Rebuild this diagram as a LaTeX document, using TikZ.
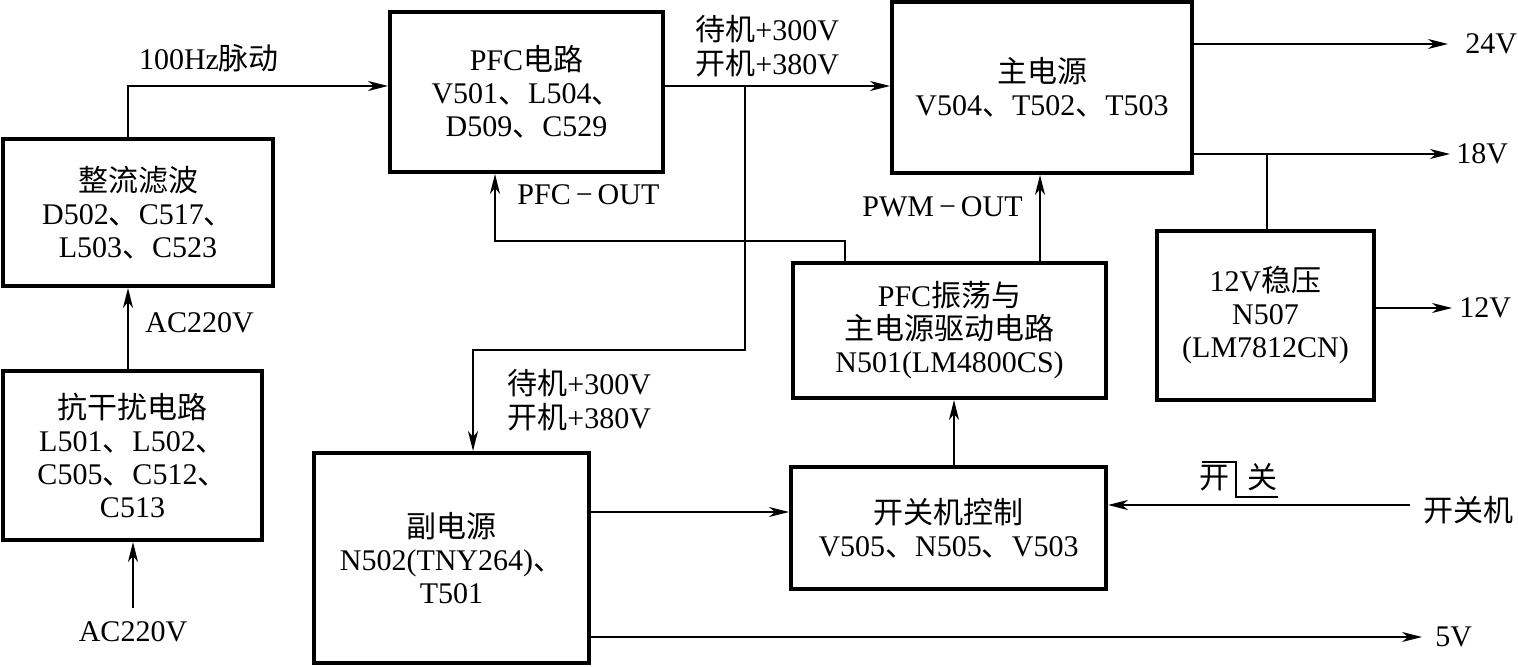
\documentclass[tikz,border=0pt]{standalone}
\usepackage{fontspec}
\setmainfont{Liberation Serif}
\newfontfamily\cjk{Noto Sans CJK SC}
\newcommand\zh[1]{{\cjk #1}}
\usetikzlibrary{arrows.meta,calc}
\begin{document}
\begin{tikzpicture}[x=0.5pt,y=-0.5pt,
  font=\fontsize{15pt}{16.5pt}\selectfont,
  blk/.style 2 args={draw,line width=2pt,minimum width=#1,minimum height=#2,align=center,inner sep=0pt},
  lbl/.style={inner sep=0pt,align=left},
  twol/.style={lbl,font=\fontsize{15pt}{17pt}\selectfont},
  ln/.style={line width=1pt},
  arr/.style={line width=1pt,-{Stealth[length=10pt,width=5pt,inset=3pt]}},
  wave/.style={line width=0.8pt},
]
\useasboundingbox (0,0) rectangle (1518,667);

% blocks
\node[blk={135pt}{73.5pt}] (zl) at (138,212.5) {\zh{整流滤波}\\D502\zh{、}C517\zh{、}\\L503\zh{、}C523};
\node[blk={129.5pt}{84.5pt}] (kg) at (132.5,455.5) {\zh{抗干扰电路}\\L501\zh{、}L502\zh{、}\\C505\zh{、}C512\zh{、}\\C513};
\node[blk={136.5pt}{80pt}] (pfc) at (526.5,92) {PFC\zh{电路}\\V501\zh{、}L504\zh{、}\\D509\zh{、}C529};
\node[blk={150pt}{85.5pt}] (main) at (1042,87.5) {\zh{主电源}\\V504\zh{、}T502\zh{、}T503};
\node[blk={108.5pt}{84.5pt}] (v12) at (1265.5,315.5) {12V\zh{稳压}\\N507\\(LM7812CN)};
\node[blk={156.5pt}{67.5pt}] (osc) at (949.5,330.5) {PFC\zh{振荡与}\\\zh{主电源驱动电路}\\N501(LM4800CS)};
\node[blk={157.5pt}{61pt}] (ctl) at (948.5,528) {\zh{开关机控制}\\V505\zh{、}N505\zh{、}V503};
\node[blk={137.5pt}{105pt}] (aux) at (451.5,558) {\zh{副电源}\\N502(TNY264)\zh{、}\\T501};

% labels
\node[lbl] (l100) at (209,58) {100Hz\zh{脉动}};
\node[lbl,anchor=west] (lac1) at (145,323) {AC220V};
\node[lbl] (acin) at (133,632) {AC220V};
\node[twol,anchor=west] (ltop) at (695,46) {\zh{待机}+300V\\\zh{开机}+380V};
\node[twol,anchor=west] (lbot) at (507,400) {\zh{待机}+300V\\\zh{开机}+380V};
\node[lbl,anchor=west] (lpfc) at (517,195) {PFC\,−\,OUT};
\node[lbl,anchor=west] (lpwm) at (862,207) {PWM\,−\,OUT};
\node[lbl,anchor=west] (o24) at (1465,44) {24V};
\node[lbl,anchor=west] (o18) at (1456,154) {18V};
\node[lbl,anchor=west] (o12) at (1459,308) {12V};
\node[lbl,anchor=west] (o5) at (1435,637) {5V};
\node[lbl,anchor=west] (kin) at (1423,510) {\zh{开关机}};
\node[lbl] (kai) at (1214,478) {\zh{开}};
\node[lbl] (guan) at (1262,477) {\zh{关}};

% helper coordinates
\coordinate (c1) at (128,86);
\coordinate (j1) at (745,86);
\coordinate (b1) at (745,350);
\coordinate (b2) at (473,350);
\coordinate (p1) at (845,241);
\coordinate (p2) at (495,241);
\coordinate (p3) at (1040,0);
\coordinate (p4) at (954,0);
\coordinate (p5) at (0,512);
\coordinate (acbot) at (133,608);
\coordinate (j2) at (1267,154);

% connectors
\draw[arr] (acbot) -- (acbot |- kg.south);
\draw[arr] (kg.north -| c1) -- (zl.south -| c1);
\draw[arr] (zl.north -| c1) -- (c1) -- (c1 -| pfc.west);
\draw[arr] (pfc.east |- c1) -- (main.west |- c1);
\draw[arr] (j1) -- (b1) -- (b2) -- (b2 |- aux.north);
\draw[arr] (osc.north -| p1) -- (p1) -- (p2) -- (p2 |- pfc.south);
\draw[arr] (osc.north -| p3) -- (main.south -| p3);
\draw[arr] (ctl.north -| p4) -- (osc.south -| p4);
\draw[arr] (aux.east |- p5) -- (ctl.west |- p5);
\draw[arr,shorten <=6.5pt] ([yshift=2.5pt]kin.west) -- ([yshift=2.5pt]kin.west -| ctl.east);
\draw[arr,shorten >=8.5pt] (main.east |- o24.west) -- (o24.west);
\draw[arr,shorten >=3pt] (main.east |- o18.west) -- (o18.west);
\draw[ln] (j2) -- (j2 |- v12.north);
\draw[arr,shorten >=3.5pt] (v12.east |- o12.west) -- (o12.west);
\draw[arr,shorten >=6.5pt] (aux.east |- o5.west) -- (o5.west);

% on/off step mark
\draw[wave] (1202,462) -- (1236,462) -- (1236,497) -- (1278,497);
\end{tikzpicture}
\end{document}
